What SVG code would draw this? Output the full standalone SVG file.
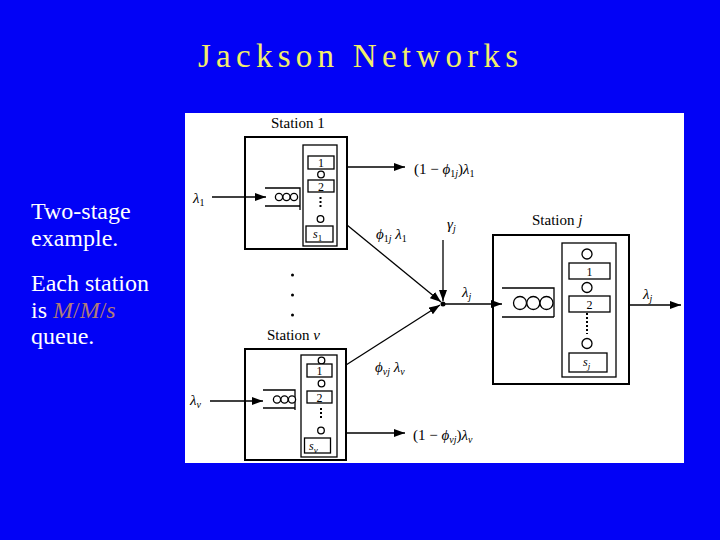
<svg xmlns="http://www.w3.org/2000/svg" width="720" height="540" viewBox="0 0 720 540">
<defs>
<marker id="ah" markerUnits="userSpaceOnUse" markerWidth="11" markerHeight="8" refX="11" refY="4" orient="auto">
<path d="M0,0 L11,4 L0,8 z" fill="#000"/>
</marker>
</defs>
<style>
.box{fill:#fff;stroke:#000;stroke-width:2}
.inner{fill:#fff;stroke:#000;stroke-width:1.3}
.srv{fill:#fff;stroke:#000;stroke-width:1.3}
.cir{fill:#fff;stroke:#000;stroke-width:1.3}
.q{fill:none;stroke:#000;stroke-width:1.3}
.dots{stroke:#000;stroke-width:2;stroke-dasharray:2 2}
.t{font-family:"Liberation Serif",serif;font-size:15px;fill:#000}
.s{font-family:"Liberation Serif",serif;font-size:12px;fill:#000}
.i{font-style:italic}
.con line{stroke:#000;stroke-width:1.3;marker-end:url(#ah)}
.slide{font-family:"Liberation Serif",serif;font-size:24px;fill:#fff}
</style>
<rect x="0" y="0" width="720" height="540" fill="#0202f6"/>
<text x="198" y="67" font-family="Liberation Serif, serif" font-size="33" fill="#f2ee6a" textLength="320" lengthAdjust="spacing">Jackson Networks</text>
<g id="caption">
<text class="slide" x="31" y="219">Two-stage</text>
<text class="slide" x="31" y="246">example.</text>
<text class="slide" x="31" y="291">Each station</text>
<text class="slide" x="31" y="318">is <tspan fill="#b07c78" font-style="italic">M</tspan><tspan fill="#b07c78">/</tspan><tspan fill="#b07c78" font-style="italic">M</tspan><tspan fill="#b07c78">/</tspan><tspan fill="#b07c78" font-style="italic">s</tspan></text>
<text class="slide" x="31" y="344">queue.</text>
</g>
<rect x="185" y="113" width="499" height="350" fill="#fff"/>
<g id="station1">
<text class="t" x="271" y="128">Station 1</text>
<rect class="box" x="245" y="137" width="102" height="112"/>
<rect class="inner" x="303" y="145" width="34" height="101"/>
<path class="q" d="M265,188 H300 V210 M265,206 H300"/>
<circle class="cir" cx="279" cy="197" r="3.6"/>
<circle class="cir" cx="286.5" cy="197" r="3.6"/>
<circle class="cir" cx="294" cy="197" r="3.6"/>
<rect class="srv" x="308" y="156" width="26" height="13"/>
<text class="s" x="321" y="167" text-anchor="middle">1</text>
<circle class="cir" cx="321" cy="174.5" r="3.3"/>
<rect class="srv" x="308" y="180" width="26" height="12"/>
<text class="s" x="321" y="190.5" text-anchor="middle">2</text>
<line class="dots" x1="320.5" y1="197" x2="320.5" y2="208"/>
<circle class="cir" cx="320.5" cy="219" r="3.3"/>
<rect class="srv" x="306" y="226" width="27" height="16"/>
<text class="s i" x="313" y="238">s<tspan font-style="normal" font-size="9" dy="3">1</tspan></text>
</g>
<g id="stationv">
<text class="t" x="267" y="340">Station <tspan class="i">v</tspan></text>
<circle cx="292.5" cy="275" r="1.5" fill="#000"/>
<circle cx="292.5" cy="295" r="1.5" fill="#000"/>
<circle cx="292.5" cy="315" r="1.5" fill="#000"/>
<rect class="box" x="245" y="349" width="101" height="111"/>
<rect class="inner" x="301" y="355" width="36" height="102"/>
<path class="q" d="M263,390 H295 V410 M263,408 H295"/>
<circle class="cir" cx="277" cy="399.5" r="3.6"/>
<circle class="cir" cx="284.5" cy="399.5" r="3.6"/>
<circle class="cir" cx="292" cy="399.5" r="3.6"/>
<circle class="cir" cx="321.5" cy="360.5" r="3.3"/>
<rect class="srv" x="307" y="364" width="25" height="13"/>
<text class="s" x="319.5" y="375" text-anchor="middle">1</text>
<circle class="cir" cx="321.5" cy="383.5" r="3.3"/>
<rect class="srv" x="307" y="391" width="25" height="12"/>
<text class="s" x="319.5" y="401.5" text-anchor="middle">2</text>
<line class="dots" x1="321" y1="408" x2="321" y2="420"/>
<circle class="cir" cx="321" cy="430.5" r="3.3"/>
<rect class="srv" x="304.5" y="438" width="26" height="15"/>
<text class="s i" x="309" y="449.5">s<tspan font-size="9" dy="3">v</tspan></text>
</g>
<g id="stationj">
<text class="t" x="532" y="225">Station <tspan class="i">j</tspan></text>
<rect class="box" x="493" y="235" width="136" height="149"/>
<rect class="inner" x="562" y="243" width="54" height="134"/>
<path class="q" d="M502,288 H554 V317 M502,317 H554"/>
<circle class="cir" cx="520" cy="303" r="6.5"/>
<circle class="cir" cx="533.3" cy="303" r="6.5"/>
<circle class="cir" cx="546.5" cy="303" r="6.5"/>
<circle class="cir" cx="587" cy="254" r="5"/>
<rect class="srv" x="569" y="263" width="41" height="16"/>
<text class="s" x="589.5" y="276" text-anchor="middle" font-size="13">1</text>
<circle class="cir" cx="587" cy="287.5" r="5"/>
<rect class="srv" x="569" y="296" width="41" height="16"/>
<text class="s" x="589.5" y="309" text-anchor="middle" font-size="13">2</text>
<line class="dots" x1="587" y1="313" x2="587" y2="334"/>
<circle class="cir" cx="587" cy="343.5" r="5"/>
<rect class="srv" x="569" y="353" width="38" height="19"/>
<text class="s i" x="583" y="366" font-size="13">s<tspan font-size="9" dy="3">j</tspan></text>
</g>
<g id="junction">
<circle cx="443" cy="304" r="2.5" fill="#000"/>
</g>
<g id="connectors" class="con">
<line x1="212" y1="197" x2="266" y2="197"/>
<line x1="210" y1="401" x2="263" y2="401"/>
<line x1="347" y1="167" x2="405" y2="167"/>
<line x1="346" y1="433" x2="405" y2="433"/>
<line x1="347" y1="225" x2="441" y2="302"/>
<line x1="346" y1="365" x2="440" y2="305"/>
<line x1="443" y1="240" x2="443" y2="301"/>
<line x1="443" y1="304" x2="502" y2="304"/>
<line x1="629" y1="305" x2="681" y2="305"/>
</g>
<g id="labels">
<text class="t i" x="193" y="203">λ<tspan font-style="normal" font-size="10" dy="3">1</tspan></text>
<text class="t i" x="190" y="405">λ<tspan font-size="10" dy="3">v</tspan></text>
<text class="t" x="414" y="174">(1 − <tspan class="i">ϕ</tspan><tspan font-size="10" dy="3">1</tspan><tspan class="i" font-size="10">j</tspan><tspan dy="-3">)</tspan><tspan class="i">λ</tspan><tspan font-size="10" dy="3">1</tspan></text>
<text class="t" x="413" y="440">(1 − <tspan class="i">ϕ</tspan><tspan class="i" font-size="10" dy="3">vj</tspan><tspan dy="-3">)</tspan><tspan class="i">λ</tspan><tspan class="i" font-size="10" dy="3">v</tspan></text>
<text class="t" x="376" y="239"><tspan class="i">ϕ</tspan><tspan font-size="10" dy="3">1</tspan><tspan class="i" font-size="10">j</tspan><tspan class="i" dy="-3"> λ</tspan><tspan font-size="10" dy="3">1</tspan></text>
<text class="t" x="375" y="372"><tspan class="i">ϕ</tspan><tspan class="i" font-size="10" dy="3">vj</tspan><tspan class="i" dy="-3"> λ</tspan><tspan class="i" font-size="10" dy="3">v</tspan></text>
<text class="t i" x="447" y="229">γ<tspan font-size="10" dy="3">j</tspan></text>
<text class="t i" x="462" y="297">λ<tspan font-size="10" dy="3">j</tspan></text>
<text class="t i" x="643" y="299">λ<tspan font-size="10" dy="3">j</tspan></text>
</g>
</svg>
